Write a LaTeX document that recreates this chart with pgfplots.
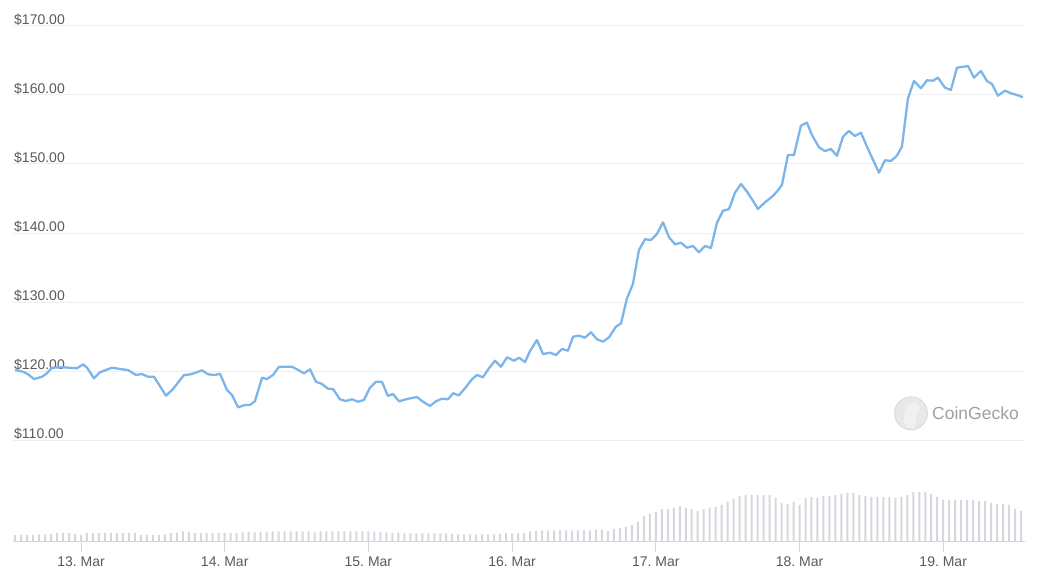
\documentclass[border=0pt]{standalone}
\usepackage{pgfplots}
\pgfplotsset{compat=1.18}
\usepackage{pgfplotstable}
\usepackage{fontspec}
\setmainfont{Liberation Sans}
\frenchspacing
\definecolor{priceblue}{HTML}{7CB5EC}
\definecolor{volgray}{HTML}{D4D7DD}
\definecolor{axisblue}{HTML}{CCD6EB}
\definecolor{gridgray}{HTML}{EEEEEE}
\definecolor{labelgray}{HTML}{5A5A5A}

\pgfplotstableread{
d p
-0.459 120.15
-0.404 119.90
-0.369 119.52
-0.327 118.84
-0.271 119.17
-0.237 119.67
-0.202 120.48
-0.125 120.54
-0.028 120.39
0.014 120.97
0.042 120.48
0.090 118.94
0.132 119.81
0.216 120.48
0.285 120.25
0.327 120.14
0.383 119.42
0.424 119.57
0.466 119.17
0.508 119.17
0.592 116.42
0.640 117.39
0.717 119.42
0.765 119.52
0.842 120.10
0.884 119.52
0.932 119.42
0.967 119.61
1.016 117.25
1.051 116.52
1.093 114.74
1.141 115.07
1.176 115.07
1.211 115.65
1.260 119.03
1.294 118.84
1.336 119.42
1.378 120.62
1.420 120.62
1.468 120.62
1.503 120.25
1.552 119.67
1.594 120.25
1.635 118.45
1.677 118.12
1.719 117.43
1.754 117.39
1.802 115.90
1.844 115.65
1.886 115.90
1.928 115.55
1.969 115.80
2.011 117.58
2.053 118.45
2.095 118.41
2.136 116.38
2.171 116.67
2.213 115.61
2.269 115.94
2.338 116.23
2.380 115.55
2.429 114.93
2.470 115.61
2.512 115.99
2.554 115.90
2.589 116.77
2.630 116.48
2.672 117.49
2.721 118.80
2.756 119.42
2.797 119.09
2.839 120.39
2.881 121.49
2.923 120.62
2.965 121.99
3.013 121.49
3.048 121.93
3.090 121.30
3.125 122.90
3.173 124.49
3.215 122.46
3.264 122.65
3.306 122.32
3.347 123.19
3.389 122.94
3.424 124.97
3.466 125.12
3.507 124.83
3.549 125.61
3.591 124.59
3.633 124.25
3.674 124.88
3.723 126.42
3.758 126.91
3.800 130.54
3.841 132.61
3.883 137.54
3.925 139.09
3.967 138.99
4.008 139.86
4.050 141.55
4.092 139.38
4.134 138.36
4.175 138.59
4.217 137.87
4.259 138.12
4.301 137.20
4.342 138.12
4.384 137.83
4.426 141.49
4.468 143.23
4.509 143.44
4.551 145.84
4.593 147.10
4.635 145.99
4.676 144.68
4.711 143.48
4.760 144.45
4.809 145.26
4.843 145.99
4.878 146.96
4.920 151.31
4.962 151.31
5.010 155.55
5.052 155.99
5.087 154.20
5.136 152.42
5.177 151.88
5.219 152.17
5.261 151.20
5.303 153.96
5.344 154.78
5.386 154.06
5.428 154.54
5.470 152.51
5.505 150.91
5.553 148.74
5.595 150.54
5.637 150.44
5.678 151.20
5.713 152.51
5.755 159.52
5.797 162.03
5.846 160.97
5.887 162.13
5.929 162.07
5.964 162.51
6.013 161.06
6.054 160.73
6.096 163.96
6.131 164.06
6.173 164.20
6.214 162.51
6.263 163.48
6.305 162.03
6.340 161.59
6.381 159.90
6.430 160.62
6.472 160.25
6.514 160.00
6.555 159.67
}\pricetable

\pgfplotstableread{
h v
-11 7
-10 7
-9 7
-8 7
-7 7.5
-6 7.5
-5 8
-4 9
-3 9
-2 9
-1 8
0 7
1 9
2 9
3 9
4 9
5 9
6 9
7 9
8 9
9 9
10 7
11 7
12 7
13 7
14 7.5
15 9
16 9
17 10.5
18 10
19 9
20 9
21 9
22 9
23 9
24 9
25 9
26 9
27 9.5
28 10
29 9.5
30 10
31 10
32 10.5
33 10.5
34 10.5
35 10.5
36 10.5
37 10.5
38 10.5
39 9.5
40 10.5
41 10.5
42 10.5
43 10.5
44 10.5
45 10.5
46 10.5
47 10.5
48 10.5
49 10
50 9.5
51 9.5
52 9
53 9.5
54 8.5
55 8.5
56 8.5
57 8.5
58 8.5
59 8.5
60 8.5
61 8.5
62 8
63 7.5
64 7.5
65 7.5
66 7.5
67 7.5
68 7.5
69 7.5
70 8
71 8.5
72 8.5
73 8.5
74 9
75 10.5
76 11
77 11.5
78 11.5
79 11.5
80 11.5
81 11.5
82 11.5
83 11.5
84 11.5
85 11.5
86 12
87 12
88 11
89 13
90 14
91 15
92 17
93 20
94 26
95 28
96 30
97 33
98 33
99 34
100 36
101 34
102 33
103 31
104 33
105 34
106 35
107 37
108 40
109 43
110 46
111 47
112 47
113 47
114 47
115 47
116 44
117 39
118 38
119 40
120 37
121 44
122 45
123 44
124 46
125 46
126 47
127 48
128 49
129 49
130 47
131 46
132 45
133 45
134 45
135 45
136 44
137 45
138 47
139 50
140 50
141 50
142 48
143 45
144 42
145 42
146 42
147 42
148 42
149 42
150 41
151 41
152 39
153 38
154 38
155 37
156 33
157 31
}\voltable

\begin{document}
\begin{tikzpicture}
\useasboundingbox (0pt,0pt) rectangle (1043pt,577pt);
% volume axis (with date axis)
\begin{axis}[
  at={(13pt,35pt)}, anchor=south west,
  scale only axis, width=1012pt, height=516pt,
  xmin=-11.357, xmax=157.66, ymin=0, ymax=516,
  axis y line=none, axis x line*=bottom,
  x axis line style={draw=axisblue, line width=1pt, -},
  xtick={0,24,48,72,96,120,144},
  xticklabels={13.\ Mar,14.\ Mar,15.\ Mar,16.\ Mar,17.\ Mar,18.\ Mar,19.\ Mar},
  xtick style={draw=axisblue, line width=1pt},
  major tick length=10pt, tick align=outside,
  xticklabel style={font=\fontsize{14}{16}\selectfont, text=labelgray, anchor=north, inner sep=0pt, yshift=-5pt},
  clip=false,
]
\addplot[ybar, bar width=2pt, bar shift=0pt, fill=volgray, draw=none] table[x=h, y=v] {\voltable};
\end{axis}
% price axis
\begin{axis}[
  at={(13pt,35pt)}, anchor=south west,
  scale only axis, width=1012pt, height=516pt,
  xmin=-0.4732, xmax=6.5693, ymin=95.22, ymax=170,
  axis line style={draw=none},
  xtick=\empty,
  ytick={110,120,130,140,150,160,170},
  yticklabels={\$110.00,\$120.00,\$130.00,\$140.00,\$150.00,\$160.00,\$170.00},
  ymajorgrids, grid style={gridgray, line width=1pt},
  ytick style={draw=none},
  major tick length=0pt,
  yticklabel style={font=\fontsize{14}{16}\selectfont, text=labelgray, anchor=base west, inner sep=0pt, xshift=1pt, yshift=1.5pt},
  clip=false,
]
\addplot[priceblue, line width=2.3pt, line join=round, mark=none] table[x=d, y=p] {\pricetable};
\end{axis}
% watermark
\fill[gray!18] (911pt,163.7pt) circle (16.5pt);
\draw[gray!30, line width=0.8pt] (911pt,163.7pt) circle (16.5pt);
\fill[white!88!gray] (906pt,150pt) .. controls (902pt,160pt) and (904pt,171pt) .. (912pt,174pt) .. controls (919pt,176pt) and (922pt,169pt) .. (918pt,164pt) .. controls (915pt,159pt) and (917pt,153pt) .. (914pt,148pt) -- cycle;
\node[anchor=west, inner sep=0pt, text=gray!75, font=\fontsize{17.5}{20}\selectfont] at (932pt,163.7pt) {CoinGecko};
\end{tikzpicture}
\end{document}
